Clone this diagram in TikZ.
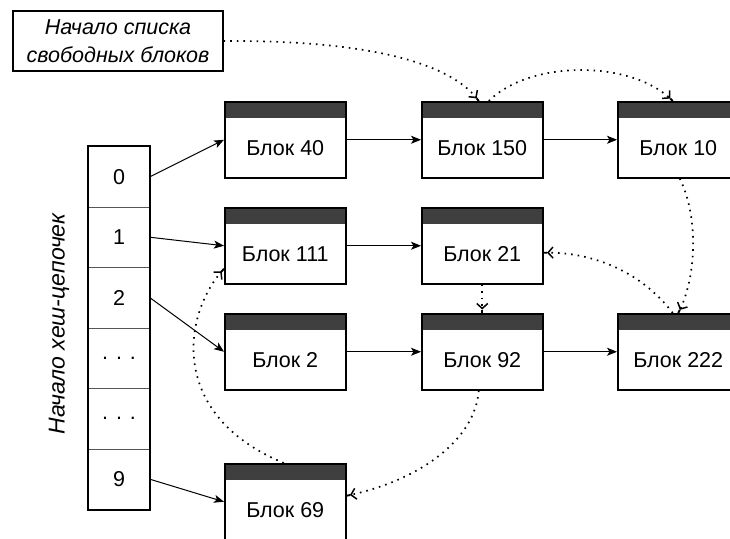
\documentclass[tikz,border=0pt]{standalone}
\usepackage{fontspec}
\setmainfont{Liberation Sans}
\usetikzlibrary{arrows.meta}

\definecolor{hdrgray}{HTML}{3F3F3F}
\definecolor{cellline}{HTML}{555555}

\begin{document}
\begin{tikzpicture}[x=1pt,y=-1pt,
  txt/.style={font=\fontsize{21.5}{26}\selectfont},
  blk/.style={txt, draw, line width=1.5pt, anchor=north west, inner sep=0pt,
    minimum width=121pt, minimum height=76pt, text height=31.5pt, text depth=0pt,
    path picture={\fill[hdrgray] (path picture bounding box.north west)
      rectangle ([yshift=-16pt]path picture bounding box.north east);}},
  cell/.style={txt, draw=cellline, line width=1pt, anchor=north west, inner sep=0pt,
    minimum width=61pt, minimum height=60.5pt},
  link/.style={line width=1pt, -{Stealth[length=10pt,width=8pt,inset=2.5pt]}},
  free/.style={line width=1.7pt, dash pattern=on 1.6pt off 5pt,
    -{Straight Barb[length=5pt,width=11pt,line width=1.5pt]Rectangle[length=3.5pt,width=1.5pt]}}
]
\useasboundingbox (0,0) rectangle (730,538);
\clip (0,0) rectangle (730,538);

% head of the free-block list
\node[txt, draw, line width=1.2pt, font=\fontsize{21.5}{28}\selectfont\itshape, align=center,
  minimum width=210pt, minimum height=60pt, inner sep=0pt] (fl) at (118,41)
  {Начало списка\\свободных блоков};

% hash table
\node[txt, font=\fontsize{23}{26}\selectfont\itshape, rotate=90] (hl) at (59,324) {Начало хеш-цепочек};
\node[cell] (h0) at (88,146) {0};
\node[cell] (h1) at (88,206.5) {1};
\node[cell] (h2) at (88,267) {2};
\node[cell] (h3) at (88,327.5) {. . .};
\node[cell] (h4) at (88,388) {. . .};
\node[cell] (h5) at (88,448.5) {9};
\draw[line width=1.3pt] (h0.north west) rectangle (h5.south east);

% blocks
\node[blk] (b40)  at (224,101) {Блок 40};
\node[blk] (b150) at (421,101) {Блок 150};
\node[blk] (b10)  at (617,101) {Блок 10};
\node[blk] (b111) at (224,207) {Блок 111};
\node[blk] (b21)  at (421,207) {Блок 21};
\node[blk] (b2)   at (224,313) {Блок 2};
\node[blk] (b92)  at (421,313) {Блок 92};
\node[blk] (b222) at (617,313) {Блок 222};
\node[blk] (b69)  at (224,463) {Блок 69};

% hash chains
\draw[link] (h0.east) -- (b40.west);
\draw[link] (h1.east) -- (b111.west);
\draw[link] (h2.east) -- (b2.west);
\draw[link] (h5.east) -- (b69.west);
\draw[link] (b40) -- (b150);
\draw[link] (b150) -- (b10);
\draw[link] (b111) -- (b21);
\draw[link] (b2) -- (b92);
\draw[link] (b92) -- (b222);

% free list
\draw[free] (fl.east) .. controls (390,40) and (455,70) .. ([xshift=-3.5pt]b150.north);
\draw[free] ([xshift=6.5pt]b150.north) .. controls (530,60) and (630,60) .. ([xshift=-5.5pt]b10.north);
\draw[free] ([xshift=1.5pt]b10.south) .. controls (700,220) and (695,280) .. (b222.north);
\draw[free] ([xshift=-5.5pt]b222.north) .. controls (640,270) and (590,252) .. ([yshift=-7pt]b21.east);
\draw[free] (b21.south) -- (b92.north);
\draw[free] ([xshift=-3.5pt]b92.south) .. controls (475,440) and (420,480) .. ([yshift=6pt]b69.east);
\draw[free] ([xshift=-1.5pt]b69.north) .. controls (168,415) and (183,315) .. ([yshift=-23pt]b111.west);
\end{tikzpicture}
\end{document}
